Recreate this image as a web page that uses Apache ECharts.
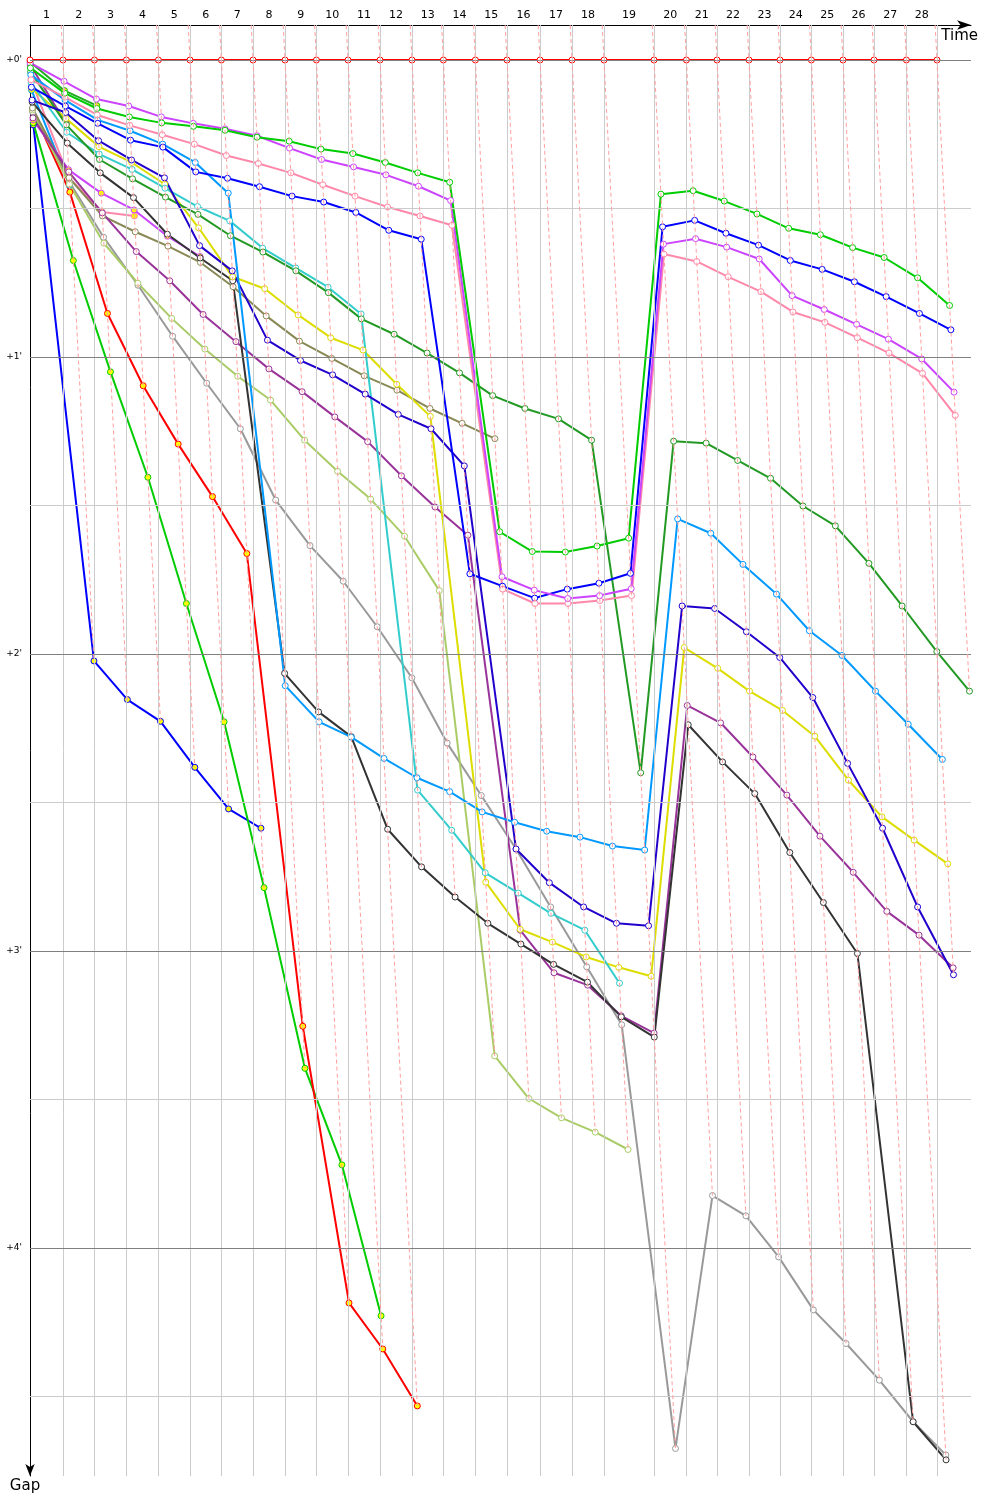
<!DOCTYPE html>
<html>
<head>
<meta charset="utf-8">
<script src="https://cdn.jsdelivr.net/npm/echarts@6/dist/echarts.min.js"></script>
<style>html,body{margin:0;padding:0;background:#fff}#chart{width:1000px;height:1500px}</style>
</head>
<body>
<div id="chart"></div>
<script>
// Leader lap durations in seconds (lap 1 .. 28)
const leaderLapTimes = [129.5, 123.2, 125.5, 125.5, 124.0, 123.2, 124.0, 125.5, 123.2, 124.0, 125.5, 125.5, 123.2, 125.5, 124.0, 129.5, 125.5, 125.5, 196.2, 127.1, 120.0, 125.5, 121.6, 123.2, 124.0, 121.6, 127.1, 120.0];
const lapLabels = ['1','2','3','4','5','6','7','8','9','10','11','12','13','14','15','16','17','18','19','20','21','22','23','24','25','26','27','28'];
const gapTickValues = [0, 60, 120, 180, 240];
const gapTickLabels = ["+0'", "+1'", "+2'", "+3'", "+4'"];
const gapMajorLines = [0, 60, 120, 180, 240];
const gapMinorLines = [30, 90, 150, 210, 270];

// Gaps to the leader in seconds; index = laps completed (0 = start)
const gapLeader = [0,0,0,0,0,0,0,0,0,0,0,0,0,0,0,0,0,0,0,0,0,0,0,0,0,0,0,0,0];
const gapGreen = [1.6, 6.7, 9.8, 11.5, 12.7, 13.4, 14.2, 15.6, 16.4, 18.0, 18.9, 20.7, 22.8, 24.7, 95.3, 99.3, 99.4, 98.2, 96.6, 27.1, 26.4, 28.5, 31.1, 34.0, 35.3, 37.9, 39.9, 44.0, 49.6];
const gapViolet = [0.6, 4.3, 7.9, 9.3, 11.5, 12.8, 13.9, 15.3, 17.8, 20.1, 21.6, 23.2, 25.5, 28.4, 104.4, 107.1, 108.8, 108.2, 106.8, 37.2, 36.1, 37.8, 40.2, 47.6, 50.4, 53.4, 56.4, 60.4, 67.1];
const gapPink = [4.0, 7.5, 11.1, 13.2, 15.1, 17.0, 19.3, 20.9, 22.8, 25.2, 27.5, 29.7, 31.5, 33.4, 106.9, 109.8, 109.8, 109.2, 108.2, 39.2, 40.7, 43.8, 46.8, 50.9, 53.0, 56.1, 59.2, 63.3, 71.8];
const gapBlue = [5.5, 9.3, 12.8, 16.2, 17.6, 22.6, 23.9, 25.6, 27.5, 28.7, 30.8, 34.4, 36.2, 103.8, 106.3, 108.7, 106.9, 105.7, 103.7, 33.7, 32.4, 35.0, 37.4, 40.5, 42.3, 44.8, 47.8, 51.2, 54.5];
const gapSky = [3.0, 8.1, 12.1, 14.3, 17.0, 20.7, 26.9, 126.4, 133.7, 136.8, 141.1, 145.0, 147.8, 151.9, 154.0, 155.8, 157.0, 158.8, 159.6, 92.7, 95.6, 101.9, 107.9, 115.3, 120.3, 127.5, 134.2, 141.3];
const gapBlack = [8.5, 16.8, 22.8, 27.8, 35.2, 40.0, 44.6, 123.9, 131.7, 136.7, 155.4, 163.0, 169.1, 174.4, 178.6, 182.7, 186.3, 193.3, 197.4, 134.3, 141.8, 148.2, 160.1, 170.2, 180.5, 275.1, 282.8];
const gapCyan = [4.6, 14.6, 19.0, 22.1, 25.9, 29.6, 32.5, 38.0, 42.0, 45.9, 51.3, 147.5, 155.6, 164.2, 168.3, 172.4, 175.8, 186.5];
const gapYellow = [5.7, 11.8, 17.5, 20.7, 25.1, 33.9, 43.8, 46.2, 51.5, 56.1, 58.6, 65.5, 72.0, 166.1, 175.6, 178.2, 181.2, 183.3, 185.1, 118.7, 122.9, 127.5, 131.4, 136.6, 145.5, 152.9, 157.6, 162.4];
const gapNavy = [8.1, 10.6, 16.3, 20.2, 23.8, 37.5, 42.6, 56.6, 60.7, 63.6, 67.5, 71.6, 74.5, 82.0, 159.4, 166.2, 171.1, 174.4, 174.9, 110.3, 110.8, 115.5, 120.7, 128.8, 142.1, 155.2, 171.1, 184.8];
const gapDarkGreen = [2.4, 13.1, 20.1, 24.0, 27.7, 31.2, 35.5, 38.8, 42.6, 47.0, 52.3, 55.4, 59.2, 63.2, 67.8, 70.4, 72.5, 76.8, 144.0, 77.0, 77.4, 80.9, 84.5, 90.1, 94.1, 101.7, 110.3, 119.5, 127.5];
const gapOlive = [9.7, 23.8, 31.5, 34.7, 37.6, 40.9, 45.8, 51.7, 56.8, 60.3, 63.8, 66.7, 70.4, 73.4, 76.5];
const gapGray = [10.5, 24.6, 35.8, 45.5, 55.8, 65.3, 74.5, 88.9, 98.1, 105.3, 114.5, 124.8, 138.0, 148.6, 159.4, 171.1, 183.2, 194.9, 280.5, 229.4, 233.5, 241.8, 252.5, 259.3, 266.7, 275.1, 281.8];
const gapLime = [10.1, 25.1, 37.0, 45.1, 52.2, 58.4, 63.9, 68.7, 76.8, 83.1, 88.7, 96.2, 107.2, 201.2, 209.8, 213.7, 216.6, 220.1];
const gapPurple = [11.7, 22.6, 30.9, 38.7, 44.6, 51.4, 56.9, 62.4, 67.0, 72.1, 77.1, 84.0, 90.3, 96.0, 175.8, 184.4, 186.9, 193.1, 196.6, 130.4, 133.9, 140.8, 148.5, 156.8, 164.1, 172.0, 176.8, 183.4];
const gapRed2 = [10.1, 26.7, 51.2, 65.8, 77.6, 88.2, 99.7, 195.2, 251.1, 260.4, 271.9];
const gapGreen2 = [12.7, 40.5, 63.0, 84.3, 109.8, 133.7, 167.2, 203.7, 223.2, 253.7];
const gapBlue2 = [13.1, 121.4, 129.2, 133.6, 142.9, 151.3, 155.2];
const gapGreen3 = [0.4, 6.2, 9.2];
const gapViolet2 = [12.1, 22.2, 26.9, 30.3, 35.6, 39.7];
const gapPink2 = [4.0, 23.8, 30.7, 31.5];
const gapSky2 = [6.1, 25.3];
const gapPurple2 = [1.0, 12.9];

const drivers = [
  {name: 'Blue 2', gaps: gapBlue2, color: '#0000ff', fill: '#ffff00'},
  {name: 'Green 2', gaps: gapGreen2, color: '#00cc00', fill: '#ffff00'},
  {name: 'Red 2', gaps: gapRed2, color: '#ff0000', fill: '#ffff00'},
  {name: 'Purple 2', gaps: gapPurple2, color: '#993399', fill: '#ffff00'},
  {name: 'Sky 2', gaps: gapSky2, color: '#0099ff', fill: '#ffff00'},
  {name: 'Pink 2', gaps: gapPink2, color: '#ff88aa', fill: '#ffff00'},
  {name: 'Violet 2', gaps: gapViolet2, color: '#cc44ff', fill: '#ffff00'},
  {name: 'Green 3', gaps: gapGreen3, color: '#22aa22', fill: '#ffff00'},
  {name: 'Gray', gaps: gapGray, color: '#999999', fill: '#ffffff'},
  {name: 'Lime', gaps: gapLime, color: '#aacc66', fill: '#ffffff'},
  {name: 'Olive', gaps: gapOlive, color: '#888855', fill: '#ffffff'},
  {name: 'Purple', gaps: gapPurple, color: '#993399', fill: '#ffffff'},
  {name: 'Black', gaps: gapBlack, color: '#333333', fill: '#ffffff'},
  {name: 'Yellow', gaps: gapYellow, color: '#dddd00', fill: '#ffffff'},
  {name: 'Cyan', gaps: gapCyan, color: '#33cccc', fill: '#ffffff'},
  {name: 'Dark green', gaps: gapDarkGreen, color: '#229922', fill: '#ffffff'},
  {name: 'Navy', gaps: gapNavy, color: '#2200cc', fill: '#ffffff'},
  {name: 'Sky', gaps: gapSky, color: '#0099ff', fill: '#ffffff'},
  {name: 'Blue', gaps: gapBlue, color: '#0000ff', fill: '#ffffff'},
  {name: 'Pink', gaps: gapPink, color: '#ff88aa', fill: '#ffffff'},
  {name: 'Violet', gaps: gapViolet, color: '#cc44ff', fill: '#ffffff'},
  {name: 'Green', gaps: gapGreen, color: '#00cc00', fill: '#ffffff'},
  {name: 'Leader', gaps: gapLeader, color: '#ff0000', fill: '#ffffff'}
];

// Cumulative leader time at end of each lap
const lapEnd = [0];
leaderLapTimes.forEach(d => lapEnd.push(lapEnd[lapEnd.length - 1] + d));
const lapMid = leaderLapTimes.map((d, i) => lapEnd[i] + d / 2);

const Y_MIN = -7.07, Y_MAX = 286.06, X_MAX = 3691.6;

// dashed lap lines: from top to the slowest car of that lap
const dashed = [];
for (let n = 1; n < lapEnd.length; n++) {
  let gMax = 0;
  drivers.forEach(d => { if (d.gaps.length > n && d.gaps[n] > gMax) gMax = d.gaps[n]; });
  dashed.push([
    {coord: [lapEnd[n] + Y_MIN, Y_MIN], lineStyle: {color: '#ff9f9f', width: 1, type: [4, 3]}},
    {coord: [lapEnd[n] + gMax, gMax]}
  ]);
}

const gridMarks = []
  .concat(lapEnd.slice(1).map(t => ({xAxis: t, lineStyle: {color: '#cccccc', width: 1, type: 'solid'}})))
  .concat(gapMinorLines.map(v => ({yAxis: v, lineStyle: {color: '#cccccc', width: 1, type: 'solid'}})))
  .concat(gapMajorLines.map(v => ({yAxis: v, lineStyle: {color: '#808080', width: 1, type: 'solid'}})));

const series = [{
  type: 'line', data: [[0, 0]], symbol: 'none', silent: true, z: 1,
  lineStyle: {opacity: 0},
  markLine: {silent: true, symbol: ['none', 'none'], label: {show: false}, animation: false,
    data: gridMarks.concat(dashed)}
}].concat(drivers.map(d => ({
  name: d.name, type: 'line', z: 3, silent: true, animation: false,
  data: d.gaps.map((g, i) => [lapEnd[i] + g, g]),
  symbol: 'circle', symbolSize: 6, showSymbol: true,
  lineStyle: {color: d.color, width: 2},
  itemStyle: {color: d.fill, borderColor: d.color, borderWidth: 1}
})));

const chart = echarts.init(document.getElementById('chart'), null, {renderer: 'canvas'});
chart.setOption({
  animation: false,
  backgroundColor: '#ffffff',
  grid: {left: 30, top: 25, right: 29, bottom: 24, outerBoundsMode: 'none'},
  xAxis: {
    type: 'value', position: 'top', min: 0, max: X_MAX,
    axisLine: {show: true, onZero: false, lineStyle: {color: '#000', width: 1}, symbol: ['none', 'arrow'], symbolSize: [7, 14]},
    axisTick: {show: false}, splitLine: {show: false},
    axisLabel: {customValues: lapMid, margin: 4, fontSize: 11, color: '#000', fontFamily: 'DejaVu Sans',
      formatter: v => { const i = lapMid.findIndex(m => Math.abs(m - v) < 1e-6); return i >= 0 ? lapLabels[i] : ''; }},
    name: 'Time', nameLocation: 'end', nameGap: 7,
    nameTextStyle: {fontSize: 15, color: '#000', fontFamily: 'DejaVu Sans', align: 'right', verticalAlign: 'top', padding: [4, 0, 0, 0]}
  },
  yAxis: {
    type: 'value', inverse: true, min: Y_MIN, max: Y_MAX,
    axisLine: {show: true, onZero: false, lineStyle: {color: '#000', width: 1}, symbol: ['arrow', 'none'], symbolSize: [7, 12]},
    axisTick: {show: false}, splitLine: {show: false},
    axisLabel: {customValues: gapTickValues, margin: 8, fontSize: 9, color: '#000', fontFamily: 'DejaVu Sans',
      formatter: v => { const i = gapTickValues.indexOf(v); return i >= 0 ? gapTickLabels[i] : ''; }},
    name: 'Gap', nameLocation: 'end', nameGap: 3,
    nameTextStyle: {fontSize: 15, color: '#000', fontFamily: 'DejaVu Sans', align: 'center', verticalAlign: 'top', padding: [0, 10, 0, 0]}
  },
  series: series
});
</script>
</body>
</html>
